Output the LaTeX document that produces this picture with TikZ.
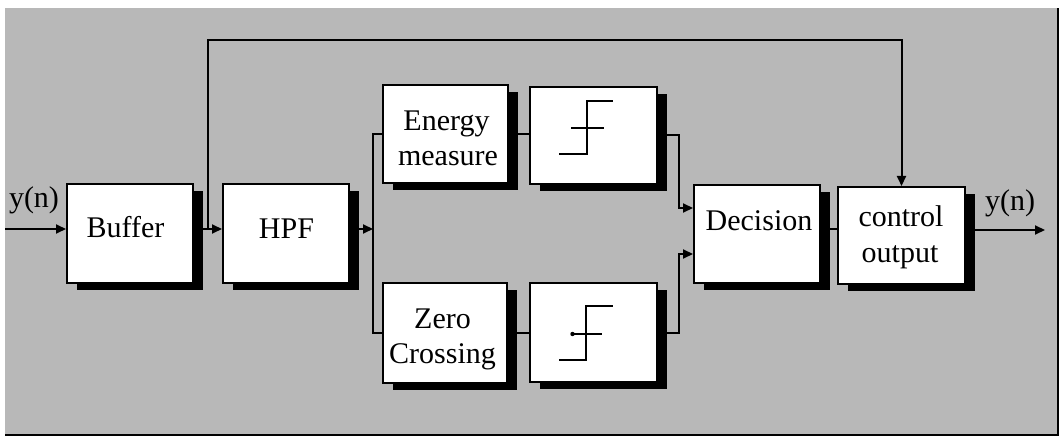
\documentclass[tikz,border=0pt]{standalone}
\usepackage{fontspec}
\setmainfont{Liberation Serif}
\usetikzlibrary{arrows.meta,shadows}
\definecolor{bg}{gray}{0.72}
\begin{document}
\begin{tikzpicture}[x=1pt,y=-1pt,
  box/.style={draw=black,line width=2pt,fill=white,minimum width=126pt,minimum height=98pt,inner sep=0pt,
    general shadow={fill=black,shadow xshift=10pt,shadow yshift=-7pt}},
  txt/.style={anchor=base,inner sep=0pt,font=\fontsize{30}{34}\selectfont},
  conn/.style={line width=2pt},
  arr/.style={conn,-{Triangle[length=10pt,width=9pt]}},
  stepline/.style={line width=2pt}]
\useasboundingbox (0,0) rectangle (1059,438);
\fill[bg] (5,8) rectangle (1058,435);
\draw[line width=1.2pt] (5,435) -- (1058,435) -- (1058,8);

% boxes
\node[box] (buffer) at (130,233.5) {};
\node[box] (hpf) at (286,233.5) {};
\node[box,minimum width=125pt] (energy) at (445.5,134) {};
\node[box,minimum width=127pt,minimum height=97pt] (thr1) at (593.5,135.5) {};
\node[box,minimum width=124pt,minimum height=100pt] (zero) at (445,333) {};
\node[box,minimum width=127pt,minimum height=99pt] (thr2) at (593.5,332.5) {};
\node[box] (dec) at (757,234) {};
\node[box,minimum width=127pt,minimum height=97pt] (ctrl) at (901.5,235.5) {};

% texts
\node[txt] (yin) at (34,208) {y(n)};
\node[txt] (t-buffer) at (125.5,238) {Buffer};
\node[txt] (t-hpf) at (286.5,239) {HPF};
\node[txt] (t-energy1) at (446.5,131) {Energy};
\node[txt] (t-energy2) at (448,166) {measure};
\node[txt] (t-zero1) at (442.5,328) {Zero};
\node[txt] (t-zero2) at (442.5,363) {Crossing};
\node[txt] (t-dec) at (759,230) {Decision};
\node[txt] (t-ctrl1) at (901,227) {control};
\node[txt] (t-ctrl2) at (900,262) {output};
\node[txt] (yout) at (1010,211) {y(n)};

% step symbols
\draw[stepline] ([shift={(-34.5,18.5)}]thr1.center) -- ++(28,0) -- ++(0,-53) -- ++(26,0);
\draw[stepline] ([shift={(-22.5,-7.5)}]thr1.center) -- ++(33,0);
\draw[stepline] ([shift={(-34.5,27.5)}]thr2.center) -- ++(27,0) -- ++(0,-54) -- ++(27,0);
\draw[stepline] ([shift={(-22.5,1.5)}]thr2.center) -- ++(31,0);
\fill ([shift={(-21,1.5)}]thr2.center) circle (2.2pt);

% connectors
\coordinate (in) at (5,229);
\coordinate (split) at (208,229);
\coordinate (br) at (373,229);
\coordinate (out) at (1045,230);

\draw[arr] (in) -- (in -| buffer.west);
\draw[arr] (in -| buffer.east) -- (in -| hpf.west);
\draw[arr] (split) -- ++(0,-189) -| (ctrl.north);
\draw[arr] (in -| hpf.east) -- (br);
\draw[conn] (energy.west) -| (br) |- (zero.west);
\draw[conn] (energy.east) -- (energy.east -| thr1.west);
\draw[conn] (zero.east) -- (zero.east -| thr2.west);
\draw[arr] (thr1.east) -| ([xshift=-14pt,yshift=26pt]dec.west) -- ([yshift=26pt]dec.west);
\draw[arr] (thr2.east) -| ([xshift=-14pt,yshift=-20pt]dec.west) -- ([yshift=-20pt]dec.west);
\draw[conn] (in -| dec.east) -- (in -| ctrl.west);
\draw[arr] (out -| ctrl.east) -- (out);
\end{tikzpicture}
\end{document}
